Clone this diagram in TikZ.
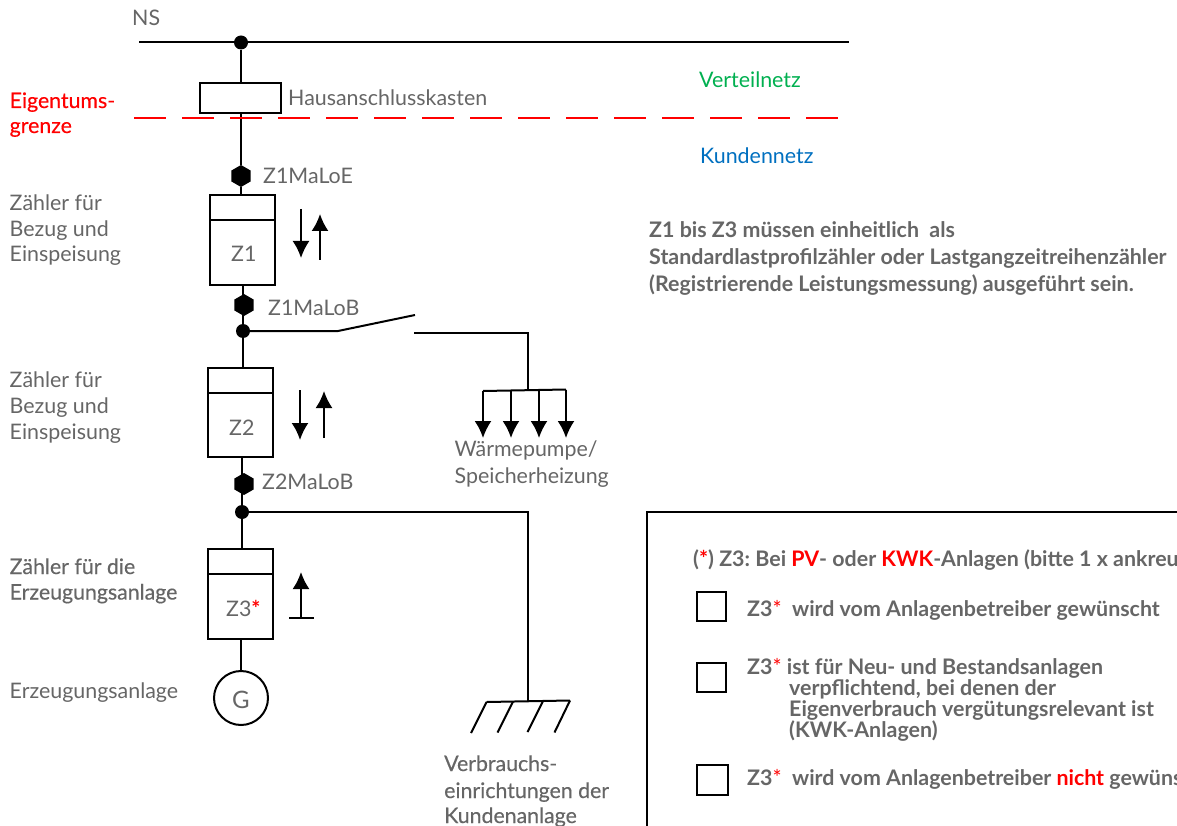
\documentclass[tikz,border=0pt]{standalone}
\usepackage{fontspec}
\setmainfont{Lato}
\newfontfamily\semib[FakeBold=0.35]{Lato}
\usetikzlibrary{arrows.meta,shapes.geometric}
\frenchspacing
\definecolor{txtgray}{HTML}{666666}
\definecolor{eigred}{HTML}{FF0000}
\definecolor{vgreen}{HTML}{00B050}
\definecolor{kblue}{HTML}{0070C0}
\tikzset{
  wire/.style={line width=2pt,black},
  lbl/.style={anchor=base west,inner sep=0pt,yshift=-0.8pt,text=txtgray,font=\fontsize{21.4}{24}\selectfont},
  boldlbl/.style={anchor=base west,inner sep=0pt,yshift=-0.8pt,text=txtgray,font=\fontsize{21.4}{24}\selectfont\bfseries},
  semilbl/.style={anchor=base west,inner sep=0pt,text=txtgray,font=\fontsize{21.3}{24}\selectfont\semib},
  meter/.style={draw,line width=2pt,minimum width=65pt,minimum height=90pt,inner sep=0pt},
  junction/.style={circle,fill=black,inner sep=0pt,minimum size=14pt},
  hexa/.style={regular polygon,regular polygon sides=6,shape border rotate=30,fill=black,inner sep=0pt,minimum size=22pt},
  checkbox/.style={draw,line width=2pt,inner sep=0pt},
  flow/.style={line width=2pt,-{Latex[length=17pt,width=17pt]}}
}
\newcommand{\redstar}{\textcolor{eigred}{\mdseries*}}
\begin{document}
\begin{tikzpicture}[x=1pt,y=-1pt]
\useasboundingbox (0,0) rectangle (1177,826);
\clip (0,0) rectangle (1177,826);
\fill[white] (0,0) rectangle (1177,826);

% bus
\coordinate (busL) at (139,42.5);
\coordinate (busR) at (849,42.5);
\node[junction] (d0) at (241,42.5) {};
\draw[wire] (busL) -- (busR);

% Hausanschlusskasten
\node[draw,line width=2pt,minimum width=81pt,minimum height=30pt,inner sep=0pt] (hak) at (240.5,98) {};
\node[hexa] (h1) at (241,176) {};
\draw[wire] (d0) -- (hak.north -| d0);
\draw[wire] (hak.south -| d0) -- (h1);

% red boundary
\coordinate (rL) at (134,118.5);
\coordinate (rR) at (840,118.5);
\draw[line width=2pt,eigred,dash pattern=on 32pt off 16pt] (rL) -- (rR);

% meter Z1
\node[meter] (z1) at (242.5,240) {};
\draw[line width=2pt] (z1.north west) ++(0,26) -- ++(65,0);
\draw[wire] (h1) -- (h1 |- z1.north);
\node[hexa] (h2) at (244,305) {};
\node[junction] (d1) at (243,331) {};
\draw[wire] (243,285) -- (d1);
% meter Z2
\node[meter,minimum height=89pt] (z2) at (240.5,412.5) {};
\draw[line width=2pt] (z2.north west) ++(0,26) -- ++(65,0);
\draw[wire] (d1) -- (d1 |- z2.north);
\node[hexa] (h3) at (244,484) {};
\node[junction] (d2) at (242,512) {};
\draw[wire] (242,457) -- (d2);
% meter Z3
\node[meter] (z3) at (240.5,594) {};
\draw[line width=2pt] (z3.north west) ++(0,26) -- ++(65,0);
\draw[wire] (d2) -- (d2 |- z3.north);
\node[draw,circle,line width=2pt,minimum size=54pt,inner sep=0pt] (g) at (241,698) {};
\draw[wire] (g.north) -- (g.north |- z3.south);

% switch branch
\coordinate (s1) at (338,331);
\coordinate (s2) at (415,315);
\coordinate (s3) at (414,333);
\coordinate (s4) at (528,333);
\coordinate (s5) at (528,389);
\draw[wire] (d1) -- (s1) -- (s2);
\draw[wire] (s3) -- (s4) -- (s5);
\coordinate (b1) at (483,391);
\coordinate (b2) at (511,390.5);
\coordinate (b3) at (539,390);
\coordinate (b4) at (566,389.5);
\draw[wire] (b1) -- (b4);
\foreach \c/\x in {b1/483,b2/511,b3/539,b4/566} \draw[flow] (\c) -- (\x,438);

% consumer branch
\coordinate (c1) at (528,512);
\coordinate (c2) at (528,701);
\draw[wire] (d2) -- (c1) -- (c2);
\coordinate (g1) at (486.5,702);
\coordinate (g2) at (513,701.5);
\coordinate (g3) at (543,701);
\coordinate (g4) at (570,700.5);
\draw[wire] (g1) -- (g4);
\draw[wire] (g1) -- ++(-15.5,31);
\draw[wire] (g2) -- ++(-15.5,31);
\draw[wire] (g3) -- ++(-15.5,31);
\draw[wire] (g4) -- ++(-15.5,32);

% flow arrows
\coordinate (a1) at (301,209); \coordinate (a1e) at (301,258);
\draw[flow] (a1) -- (a1e);
\coordinate (a2) at (320,260); \coordinate (a2e) at (320,214);
\draw[flow] (a2) -- (a2e);
\coordinate (a3) at (300,390); \coordinate (a3e) at (300,440);
\draw[flow] (a3) -- (a3e);
\coordinate (a4) at (324,438); \coordinate (a4e) at (324,391);
\draw[flow] (a4) -- (a4e);
\coordinate (a5) at (301,617); \coordinate (a5e) at (301,572);
\draw[flow] (a5) -- (a5e);
\coordinate (a6) at (289,617.5); \coordinate (a7) at (314,617.5);
\draw[wire] (a6) -- (a7);

% labels
\node[lbl] (tNS) at (132,25) {NS};
\node[lbl] (tHAK) at (288,105) {Hausanschlusskasten};
\node[semilbl,text=eigred] (tE1) at (9.5,108) {Eigentums-};
\node[semilbl,text=eigred] (tE2) at (9.5,133) {grenze};
\node[lbl,text=vgreen] (tV) at (699,87) {Verteilnetz};
\node[lbl,text=kblue] (tK) at (700,163) {Kundennetz};
\node[lbl] (t1e) at (263,183) {Z1MaLoE};
\node[lbl] (t1b) at (268,315) {Z1MaLoB};
\node[lbl] (t2b) at (262,489) {Z2MaLoB};
\node[lbl] (tz1a) at (9.5,210) {Zähler für};
\node[lbl] (tz1b) at (9.5,236) {Bezug und};
\node[lbl] (tz1c) at (9.5,261) {Einspeisung};
\node[lbl] (tz2a) at (9.5,387) {Zähler für};
\node[lbl] (tz2b) at (9.5,413) {Bezug und};
\node[lbl] (tz2c) at (9.5,439) {Einspeisung};
\node[semilbl] (tz3a) at (9.5,574) {Zähler für die};
\node[semilbl] (tz3b) at (9.5,599.5) {Erzeugungsanlage};
\node[lbl] (tEA) at (9.5,698) {Erzeugungsanlage};
\node[lbl] (z1t) at (231,261) {Z1};
\node[lbl] (z2t) at (229,435) {Z2};
\node[lbl] (z3t) at (226,616) {Z3\textcolor{eigred}{\bfseries*}};
\node[lbl,anchor=base,font=\fontsize{24}{28}\selectfont] (gt) at (241,708) {G};
\node[lbl] (wp1) at (454.5,456) {Wärmepumpe/};
\node[lbl] (wp2) at (454.5,483) {Speicherheizung};
\node[semilbl] (vb1) at (444,771) {Verbrauchs-};
\node[semilbl] (vb2) at (444,798) {einrichtungen der};
\node[semilbl] (vb3) at (444,823) {Kundenanlage};

\node[boldlbl] (p1) at (649,237) {Z1 bis Z3 müssen einheitlich\ \ als};
\node[boldlbl] (p2) at (649,264) {Standardlastprofilzähler oder Lastgangzeitreihenzähler};
\node[boldlbl] (p3) at (649,291) {(Registrierende Leistungsmessung) ausgeführt sein.};

% frame
\coordinate (f1) at (1180,512);
\coordinate (f2) at (647,512);
\coordinate (f3) at (647,830);
\draw[wire] (f1) -- (f2) -- (f3);

\node[boldlbl] (q0) at (693,566) {(\textcolor{eigred}{*}) Z3: Bei \textcolor{eigred}{PV}- oder \textcolor{eigred}{KWK}-Anlagen (bitte 1 x ankreuzen)};
\node[checkbox,minimum width=29pt,minimum height=29pt] (cb1) at (711,606.5) {};
\node[checkbox,minimum width=29pt,minimum height=29pt] (cb2) at (711,677.5) {};
\node[checkbox,minimum width=31pt,minimum height=30pt] (cb3) at (712,780) {};
\node[boldlbl] (q1) at (747,616) {Z3\redstar\ \ wird vom Anlagenbetreiber gewünscht};
\node[boldlbl] (q2a) at (747,674) {Z3\redstar{} ist für Neu- und Bestandsanlagen};
\node[boldlbl] (q2b) at (789,695) {verpflichtend, bei denen der};
\node[boldlbl] (q2c) at (789,716) {Eigenverbrauch vergütungsrelevant ist};
\node[boldlbl] (q2d) at (789,737) {(KWK-Anlagen)};
\node[boldlbl] (q3) at (747,785) {Z3\redstar\ \ wird vom Anlagenbetreiber \textcolor{eigred}{nicht} gewünscht};
\end{tikzpicture}
\end{document}
